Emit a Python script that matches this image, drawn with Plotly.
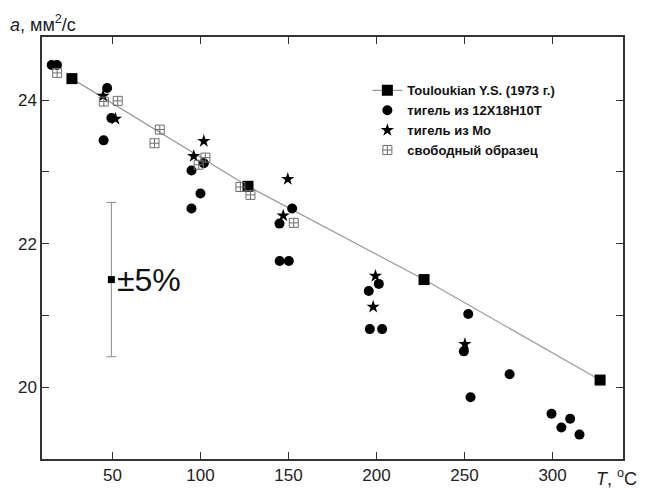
import plotly.graph_objects as go

# Touloukian reference line
ref_T = [27, 127, 227, 327]
ref_a = [24.30, 22.80, 21.50, 20.10]

# crucible made of 12X18H10T steel
steel_T = [15.5, 18.5, 47, 49.4, 45, 94.9, 101.9, 100, 94.9, 152.1, 144.9, 145, 150.2,
           201.3, 195.6, 196.2, 203.2, 252.1, 249.6, 275.6, 253.4, 299.4, 305, 310, 315.3]
steel_a = [24.49, 24.49, 24.17, 23.75, 23.44, 23.02, 23.12, 22.70, 22.49, 22.49, 22.28, 21.76, 21.76,
           21.44, 21.34, 20.81, 20.81, 21.02, 20.50, 20.18, 19.86, 19.63, 19.44, 19.56, 19.34]

# crucible made of Mo
mo_T = [44.7, 51.7, 101.9, 96.2, 149.6, 147, 199.4, 198.1, 250.2]
mo_a = [24.06, 23.74, 23.43, 23.22, 22.90, 22.39, 21.55, 21.12, 20.60]

# free sample
free_T = [18.6, 45.1, 53, 76.9, 73.9, 102.8, 99, 122.7, 128.4, 153]
free_a = [24.38, 23.98, 23.99, 23.59, 23.40, 23.20, 23.10, 22.79, 22.68, 22.29]

# ±5% error indicator
err_T = [49.4]
err_a = [21.5]
err_pct = 5

# axis ticks
x_ticks = [50, 100, 150, 200, 250, 300]
y_ticks = [20, 22, 24]
y_minor = [21, 23]

FONT = "Liberation Sans, Arial"

fig = go.Figure()

fig.add_trace(go.Scatter(
    x=err_T, y=err_a, mode="markers", showlegend=False,
    marker=dict(symbol="square", size=7, color="black"),
    error_y=dict(type="data", array=[a * err_pct / 100 for a in err_a],
                 color="#8c8c8c", thickness=1, width=5),
))

fig.add_trace(go.Scatter(
    x=ref_T, y=ref_a, mode="lines+markers", name="Touloukian Y.S. (1973 г.)",
    line=dict(color="#9a9a9a", width=1.2),
    marker=dict(symbol="square", size=11, color="black"),
))
fig.add_trace(go.Scatter(
    x=steel_T, y=steel_a, mode="markers", name="тигель из 12Х18Н10Т",
    marker=dict(symbol="circle", size=10, color="black"),
))
fig.add_trace(go.Scatter(
    x=mo_T, y=mo_a, mode="markers", name="тигель из Мо",
    marker=dict(symbol="star", size=10, color="black"),
))
fig.add_trace(go.Scatter(
    x=free_T, y=free_a, mode="markers", name="свободный образец",
    marker=dict(symbol="square-cross-open", size=9, color="#6e6e6e",
                line=dict(width=1, color="#6e6e6e")),
))

axis_common = dict(
    showline=True, linecolor="#333", linewidth=1.5, mirror="ticks",
    ticks="inside", ticklen=7, tickwidth=1.2, tickcolor="#333",
    showgrid=False, zeroline=False,
    tickfont=dict(family=FONT, size=17, color="#222"),
)

fig.update_xaxes(range=[10, 340], tickvals=x_ticks, **axis_common)
fig.update_yaxes(range=[19.0, 24.88], tickvals=y_ticks,
                 minor=dict(tickvals=y_minor, ticks="inside", ticklen=7,
                            tickwidth=1.2, tickcolor="#333", showgrid=False),
                 **axis_common)

fig.add_annotation(x=-0.059, y=1.033, xref="paper", yref="paper", xanchor="left", yanchor="middle",
                   text="<i>a</i>, мм<sup>2</sup>/с", showarrow=False,
                   font=dict(family=FONT, size=18, color="#222"))
fig.add_annotation(x=0.95, y=-0.045, xref="paper", yref="paper", xanchor="left", yanchor="middle",
                   text="<i>T</i>, <sup>o</sup>C", showarrow=False,
                   font=dict(family=FONT, size=18, color="#222"))
fig.add_annotation(x=err_T[0] + 2, y=err_a[0], xanchor="left", yanchor="middle",
                   text="±5%", showarrow=False,
                   font=dict(family=FONT, size=32, color="#111"))

fig.update_layout(
    width=648, height=497,
    margin=dict(l=42, r=25, t=37, b=29),
    paper_bgcolor="white", plot_bgcolor="white",
    legend=dict(x=0.56, y=0.909, xanchor="left", yanchor="top",
                bgcolor="rgba(0,0,0,0)", tracegroupgap=0,
                font=dict(family=FONT, size=13, color="#111", weight="bold")),
)

fig.write_html("out.html")
